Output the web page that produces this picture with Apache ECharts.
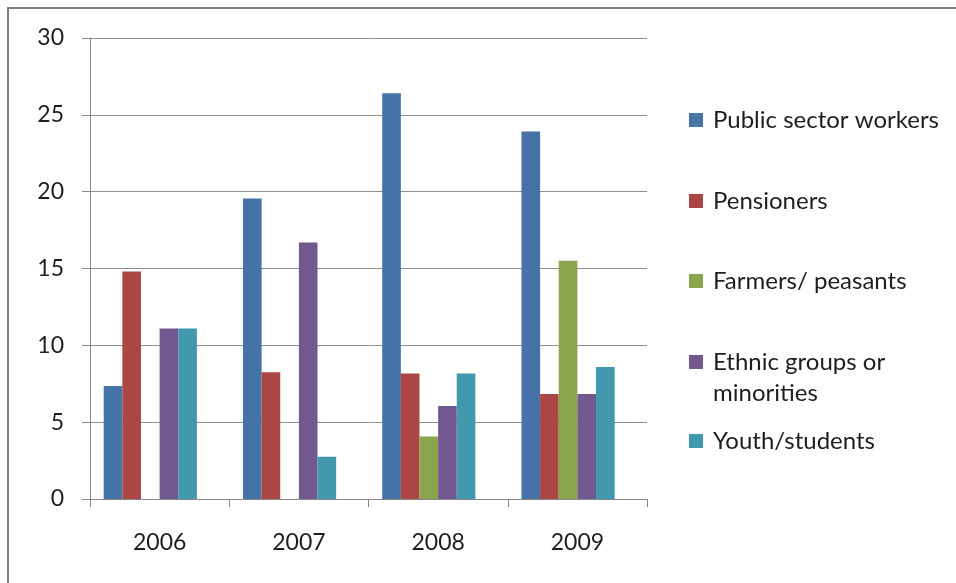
<!DOCTYPE html>
<html>
<head>
<meta charset="utf-8">
<script src="https://cdn.jsdelivr.net/npm/echarts@6/dist/echarts.min.js"></script>
<style>
html,body{margin:0;padding:0;background:#fff;}
#chart{width:956px;height:583px;}
</style>
</head>
<body>
<div id="chart"></div>
<script>
const categories = ['2006', '2007', '2008', '2009'];
const seriesNames = ['Public sector workers', 'Pensioners', 'Farmers/ peasants', 'Ethnic groups or minorities', 'Youth/students'];
const publicSector = [7.35, 19.55, 26.4, 23.92];
const pensioners = [14.8, 8.25, 8.16, 6.84];
const farmers = [null, null, 4.07, 15.5];
const ethnic = [11.1, 16.7, 6.06, 6.84];
const youth = [11.1, 2.75, 8.16, 8.59];
const emptySlot = [null, null, null, null];
const yTicks = [0, 5, 10, 15, 20, 25, 30];

const colors = ['#4572A7', '#AA4643', '#89A54E', '#71588F', '#4198AF', 'rgba(0,0,0,0)'];
const seriesData = [publicSector, pensioners, farmers, ethnic, youth, emptySlot];
const legendCenters = [120, 201, 281, 362, 441];
const FONT = 'Lato';
const FS = 23;
const LFS = 24;
const textColor = '#1e1e1e';

const chart = echarts.init(document.getElementById('chart'));

const legends = seriesNames.map((name, i) => {
  const twoLine = i === 3;
  return {
    data: [name],
    left: 689,
    top: twoLine ? legendCenters[i] - 46.5 : legendCenters[i] - 15,
    padding: 0,
    itemWidth: 14,
    itemHeight: 14,
    icon: 'rect',
    selectedMode: false,
    formatter: twoLine ? ' \nEthnic groups or\nminorities' : '{name}',
    textStyle: {
      fontFamily: FONT,
      fontSize: LFS,
      color: textColor,
      lineHeight: twoLine ? 31 : 30,
      padding: [0, 0, 0, 5]
    }
  };
});

const option = {
  backgroundColor: '#ffffff',
  animation: false,
  color: colors,
  graphic: [
    { type: 'line', shape: { x1: 7, y1: 8, x2: 956, y2: 8 }, style: { stroke: '#7f7f7f', lineWidth: 2 }, silent: true },
    { type: 'line', shape: { x1: 8, y1: 7, x2: 8, y2: 583 }, style: { stroke: '#7f7f7f', lineWidth: 2 }, silent: true }
  ],
  legend: legends,
  grid: { left: 90, right: 309, top: 38, bottom: 84, containLabel: false },
  xAxis: {
    type: 'category',
    data: categories,
    boundaryGap: true,
    axisLine: { show: true, lineStyle: { color: '#888', width: 1 } },
    axisTick: { show: true, length: 8, inside: false, lineStyle: { color: '#888' } },
    axisLabel: { margin: 32, fontFamily: FONT, fontSize: FS, color: textColor },
    splitLine: { show: false }
  },
  yAxis: {
    type: 'value',
    min: yTicks[0],
    max: yTicks[yTicks.length - 1],
    interval: 5,
    axisLine: { show: true, lineStyle: { color: '#888', width: 1 } },
    axisTick: { show: true, length: 8, inside: false, lineStyle: { color: '#888' } },
    axisLabel: { margin: 26, fontFamily: FONT, fontSize: FS, color: textColor },
    splitLine: { show: true, lineStyle: { color: '#8f8f8f', width: 1 } }
  },
  series: seriesData.map((d, i) => ({
    name: i < 5 ? seriesNames[i] : '',
    type: 'bar',
    data: d,
    barGap: '0%',
    barCategoryGap: '19.7%',
    itemStyle: { color: colors[i] },
    silent: true
  }))
};
chart.setOption(option);
</script>
</body>
</html>
